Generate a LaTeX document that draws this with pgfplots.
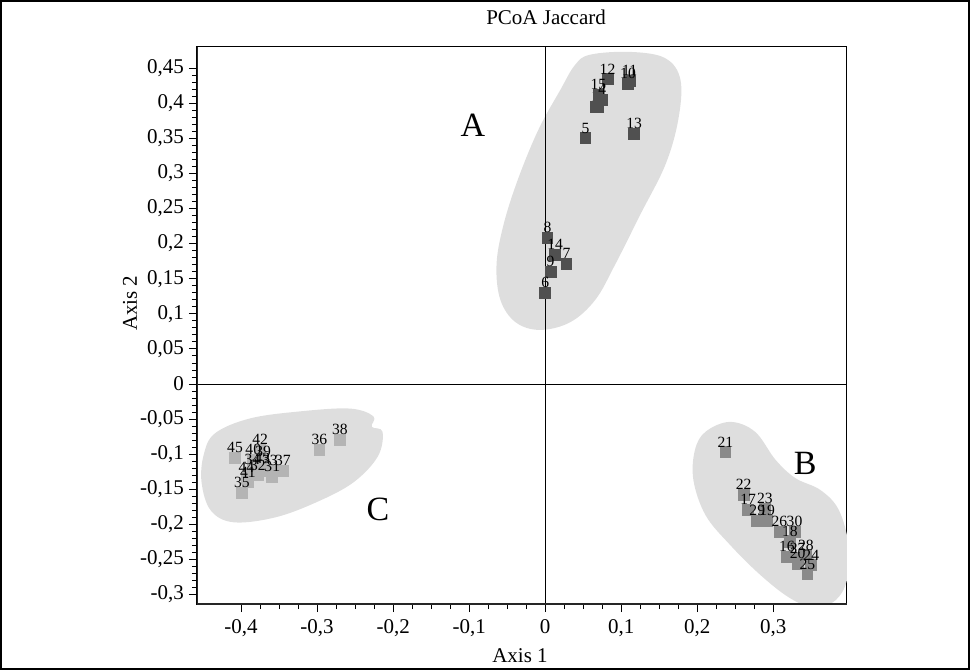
\documentclass[border=0pt]{standalone}
\usepackage{fontspec}
\setmainfont{Liberation Serif}
\usepackage{pgfplots}
\pgfplotsset{compat=1.18}
\definecolor{grpA}{HTML}{505050}
\definecolor{grpB}{HTML}{8A8A8A}
\definecolor{grpC}{HTML}{B4B4B4}
\definecolor{hull}{HTML}{DEDEDE}

% group A
\pgfplotstableread{
x y lab
0.082 0.434 12
0.111 0.432 11
0.109 0.427 10
0.066 0.395 1
0.070 0.395 3
0.070 0.412 15
0.075 0.405 4
0.053 0.350 5
0.117 0.356 13
0.003 0.208 8
0.013 0.184 14
0.028 0.171 7
0.007 0.160 9
0.000 0.130 6
}\tblA
% group B
\pgfplotstableread{
x y lab
0.237 -0.097 21
0.261 -0.158 22
0.267 -0.179 17
0.289 -0.178 23
0.279 -0.195 29
0.292 -0.195 19
0.308 -0.211 26
0.328 -0.211 30
0.322 -0.225 18
0.318 -0.246 16
0.332 -0.248 27
0.343 -0.244 28
0.332 -0.256 20
0.350 -0.258 24
0.345 -0.271 25
}\tblB
% group C
\pgfplotstableread{
x y lab
-0.408 -0.105 45
-0.375 -0.094 42
-0.384 -0.108 40
-0.371 -0.111 39
-0.345 -0.124 37
-0.362 -0.124 33
-0.372 -0.120 43
-0.385 -0.122 34
-0.359 -0.132 31
-0.378 -0.130 32
-0.393 -0.134 44
-0.391 -0.140 41
-0.399 -0.155 35
-0.297 -0.094 36
-0.270 -0.080 38
}\tblC

\begin{document}
\begin{tikzpicture}
\useasboundingbox (-98.5pt,-33pt) rectangle (386.5pt,302pt);
\draw[line width=1pt] (-97.8pt,-32.3pt) rectangle (385.8pt,301.3pt);
\begin{axis}[
  width=325pt, height=278.5pt, scale only axis,
  xmin=-0.458, xmax=0.397, ymin=-0.3134, ymax=0.48,
  axis line style={black, line width=0.5pt},
  xtick={-0.4,-0.3,-0.2,-0.1,0,0.1,0.2,0.3},
  ytick={-0.3,-0.25,-0.2,-0.15,-0.1,-0.05,0,0.05,0.1,0.15,0.2,0.25,0.3,0.35,0.4,0.45},
  minor x tick num=3, minor y tick num=4,
  tick align=outside, xtick pos=left, ytick pos=left,
  major tick length=4pt, minor tick length=2.5pt,
  tick style={black, line width=0.4pt},
  /pgf/number format/.cd, fixed, use comma, precision=2, assume math mode=true,
  /pgfplots/.cd,
  ticklabel style={font=\fontsize{10.5}{12}\selectfont},
  yticklabel style={xshift=1pt},
  title={PCoA Jaccard},
  title style={font=\fontsize{10.5}{12}\selectfont, at={(axis description cs:0.537,1.031)}, anchor=center},
  xlabel={Axis 1},
  xlabel style={font=\fontsize{10.5}{12}\selectfont, at={(axis description cs:0.497,-0.092)}, anchor=center},
  ylabel={Axis 2},
  ylabel style={font=\fontsize{10.5}{12}\selectfont, at={(axis description cs:-0.103,0.54)}, anchor=center},
  nodes near coords, point meta=explicit symbolic,
  every node near coord/.append style={font=\fontsize{7.8}{9}\selectfont, black, anchor=south, yshift=-1pt},
]
% cluster hulls
\fill[hull] plot[smooth cycle, tension=0.6] coordinates {
  (axis cs:0.059,0.469) (axis cs:0.112,0.473) (axis cs:0.158,0.464) (axis cs:0.178,0.433)
  (axis cs:0.175,0.376) (axis cs:0.158,0.312) (axis cs:0.125,0.241) (axis cs:0.092,0.170)
  (axis cs:0.066,0.120) (axis cs:0.033,0.088) (axis cs:-0.007,0.077) (axis cs:-0.039,0.088)
  (axis cs:-0.059,0.120) (axis cs:-0.064,0.170) (axis cs:-0.055,0.226) (axis cs:-0.036,0.291)
  (axis cs:-0.009,0.362) (axis cs:0.020,0.419) (axis cs:0.039,0.454)};
\fill[hull] plot[smooth cycle, tension=0.6] coordinates {
  (axis cs:-0.434,-0.070) (axis cs:-0.388,-0.049) (axis cs:-0.322,-0.039) (axis cs:-0.257,-0.035)
  (axis cs:-0.226,-0.046) (axis cs:-0.228,-0.061) (axis cs:-0.214,-0.068) (axis cs:-0.220,-0.103)
  (axis cs:-0.252,-0.140) (axis cs:-0.300,-0.168) (axis cs:-0.355,-0.190) (axis cs:-0.410,-0.197)
  (axis cs:-0.440,-0.180) (axis cs:-0.452,-0.140) (axis cs:-0.449,-0.100)};
\fill[hull] plot[smooth cycle, tension=0.6] coordinates {
  (axis cs:0.211,-0.068) (axis cs:0.243,-0.054) (axis cs:0.276,-0.068) (axis cs:0.303,-0.108)
  (axis cs:0.329,-0.134) (axis cs:0.362,-0.151) (axis cs:0.386,-0.179) (axis cs:0.399,-0.229)
  (axis cs:0.397,-0.279) (axis cs:0.382,-0.308) (axis cs:0.355,-0.319) (axis cs:0.322,-0.305)
  (axis cs:0.283,-0.272) (axis cs:0.243,-0.229) (axis cs:0.211,-0.187) (axis cs:0.195,-0.137)
  (axis cs:0.197,-0.094)};

\addplot[only marks, mark=square*, mark size=2.7pt, mark options={fill=grpA, draw=grpA}] table[meta=lab] {\tblA};
\addplot[only marks, mark=square*, mark size=2.7pt, mark options={fill=grpB, draw=grpB}] table[meta=lab] {\tblB};
\addplot[only marks, mark=square*, mark size=2.7pt, mark options={fill=grpC, draw=grpC}] table[meta=lab] {\tblC};

% zero lines
\addplot[black, line width=0.4pt, nodes near coords={}] coordinates {(0,-0.3134) (0,0.48)};
\addplot[black, line width=0.4pt, nodes near coords={}] coordinates {(-0.458,0) (0.397,0)};

\node[font=\fontsize{17}{19}\selectfont] at (axis cs:-0.095,0.369) {A};
\node[font=\fontsize{17}{19}\selectfont] at (axis cs:0.342,-0.113) {B};
\node[font=\fontsize{17}{19}\selectfont] at (axis cs:-0.220,-0.179) {C};

\draw[black!85, line width=1.3pt] (rel axis cs:0,1) -- (rel axis cs:0,0) -- (rel axis cs:1,0);
\end{axis}
\end{tikzpicture}
\end{document}
